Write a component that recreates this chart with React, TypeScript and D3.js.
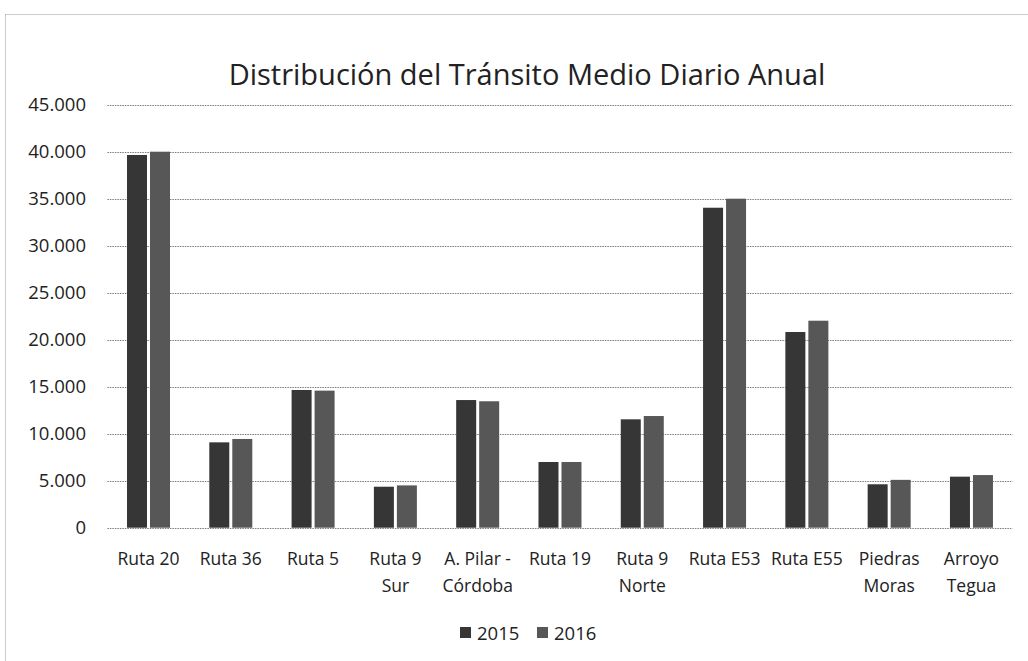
import React from "react";
import * as d3 from "d3";

const categories = [
  "Ruta 20",
  "Ruta 36",
  "Ruta 5",
  "Ruta 9 Sur",
  "A. Pilar - Córdoba",
  "Ruta 19",
  "Ruta 9 Norte",
  "Ruta E53",
  "Ruta E55",
  "Piedras Moras",
  "Arroyo Tegua",
];
const categoryLines = [
  ["Ruta 20"],
  ["Ruta 36"],
  ["Ruta 5"],
  ["Ruta 9", "Sur"],
  ["A. Pilar -", "Córdoba"],
  ["Ruta 19"],
  ["Ruta 9", "Norte"],
  ["Ruta E53"],
  ["Ruta E55"],
  ["Piedras", "Moras"],
  ["Arroyo", "Tegua"],
];
const seriesNames = ["2015", "2016"];
const values2015 = [39650, 9080, 14650, 4360, 13580, 6990, 11530, 34040, 20820, 4620, 5430];
const values2016 = [40000, 9440, 14580, 4500, 13450, 6990, 11880, 35000, 22020, 5090, 5600];
const yTicks = [0, 5000, 10000, 15000, 20000, 25000, 30000, 35000, 40000, 45000];
const title = "Distribución del Tránsito Medio Diario Anual";

const W = 1028;
const H = 661;
const colors = ["#363636", "#575757"];
const font = "'Open Sans', 'Noto Sans', sans-serif";

const locale = d3.formatLocale({ decimal: ",", thousands: ".", grouping: [3], currency: ["", ""] });
const fmt = locale.format(",d");

export default function App() {
  const plotLeft = 107.35;
  const plotRight = 1012.6;
  const plotTop = 104.7;
  const plotBottom = 527.7;

  const x = d3.scaleBand<string>().domain(categories).range([plotLeft, plotRight]).padding(0);
  const groupWidth = 43;
  const x1 = d3.scaleBand<string>().domain(seriesNames).range([0, groupWidth]).paddingInner(2 - groupWidth / 23);
  const y = d3.scaleLinear().domain([0, 45000]).range([plotBottom, plotTop]);
  const series = [values2015, values2016];

  return (
    <svg
      width={W}
      height={H}
      style={{ position: "absolute", left: 0, top: 0, background: "#fff" }}
      fontFamily={font}
    >
      <rect x={0} y={0} width={W} height={H} fill="#ffffff" />
      {/* outer chart border (partially visible) */}
      <line x1={5.5} y1={14.5} x2={W} y2={14.5} stroke="#9a9a9a" strokeDasharray="1,1" />
      <line x1={5.5} y1={14.5} x2={5.5} y2={H} stroke="#9a9a9a" strokeDasharray="1,1" />

      <text x={527} y={85} textAnchor="middle" fontSize={29} fill="#222">
        {title}
      </text>

      {/* gridlines + y labels */}
      {yTicks.map((t) => (
        <g key={t}>
          <line
            x1={plotLeft}
            x2={plotRight}
            y1={Math.round(y(t)) + 0.5}
            y2={Math.round(y(t)) + 0.5}
            stroke="#7a7a7a"
            strokeDasharray="1.5,1"
            strokeWidth={1}
          />
          <text x={86} y={y(t)} dy="0.35em" textAnchor="end" fontSize={18.5} fill="#222">
            {fmt(t)}
          </text>
        </g>
      ))}

      {/* bars */}
      {categories.map((c, i) => {
        const cx = (x(c) as number) + x.bandwidth() / 2;
        const gx = cx - groupWidth / 2;
        return (
          <g key={c}>
            {seriesNames.map((s, k) => {
              const v = series[k][i];
              return (
                <rect
                  key={s}
                  x={gx + (x1(s) as number)}
                  y={y(v)}
                  width={x1.bandwidth()}
                  height={y(0) - y(v)}
                  fill={colors[k]}
                />
              );
            })}
          </g>
        );
      })}

      {/* category labels */}
      {categories.map((c, i) => {
        const cx = (x(c) as number) + x.bandwidth() / 2;
        return (
          <text key={c} x={cx} y={565} textAnchor="middle" fontSize={17.5} fill="#222">
            {categoryLines[i].map((ln, j) => (
              <tspan key={j} x={cx} dy={j === 0 ? 0 : 27}>
                {ln}
              </tspan>
            ))}
          </text>
        );
      })}

      {/* legend */}
      {seriesNames.map((s, k) => {
        const lx = 460 + k * 77;
        return (
          <g key={s}>
            <rect x={lx} y={627} width={11} height={11} fill={colors[k]} />
            <text x={lx + 17} y={640} fontSize={18.5} fill="#222">
              {s}
            </text>
          </g>
        );
      })}
    </svg>
  );
}
